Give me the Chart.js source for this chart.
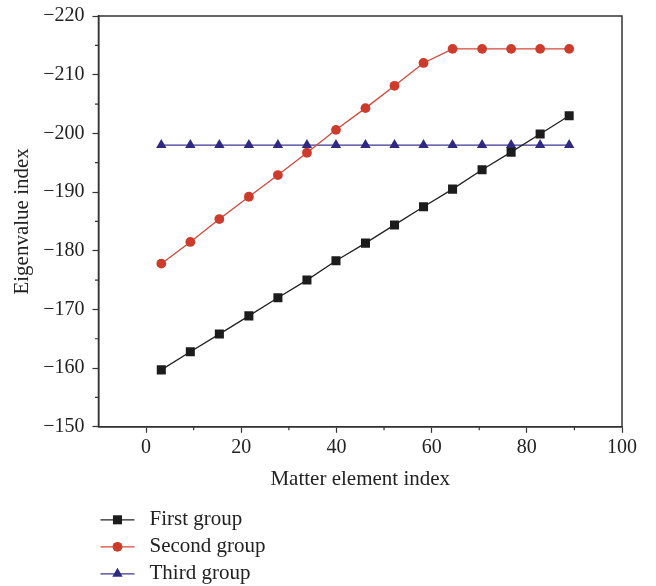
<!DOCTYPE html>
<html>
<head>
<meta charset="utf-8">
<script src="https://cdn.jsdelivr.net/npm/chart.js@4.4.0/dist/chart.umd.min.js"></script>
<style>
  html, body { margin: 0; padding: 0; background: #fff; }
  #wrap { width: 656px; height: 586px; position: relative; }
</style>
</head>
<body>
<div id="wrap"><canvas id="grafico"></canvas></div>
<script>
// Valores
const matterIndex = [3.2, 9.3, 15.4, 21.6, 27.7, 33.8, 39.9, 46.1, 52.2, 58.3, 64.4, 70.6, 76.7, 82.8, 88.9];
const firstGroup = [-159.7, -162.8, -165.8, -168.9, -172.0, -175.0, -178.3, -181.3, -184.4, -187.5, -190.5, -193.8, -196.8, -199.9, -203.0];
const secondGroup = [-177.8, -181.5, -185.4, -189.2, -192.9, -196.7, -200.6, -204.3, -208.1, -212.0, -214.4, -214.4, -214.4, -214.4, -214.4];
const thirdGroup = [-198.0, -198.0, -198.0, -198.0, -198.0, -198.0, -198.0, -198.0, -198.0, -198.0, -198.0, -198.0, -198.0, -198.0, -198.0];
const seriesNames = ['First group', 'Second group', 'Third group'];

const xTicks = [0, 20, 40, 60, 80, 100];
const xMinorTicks = [10, 30, 50, 70, 90];
const yTicks = [-220, -210, -200, -190, -180, -170, -160, -150];
const yMinorTicks = [-215, -205, -195, -185, -175, -165, -155];

const fonte = "'Liberation Serif', 'DejaVu Serif', serif";
const corEixo = '#333333';

function pontos(ys) {
    return matterIndex.map((x, i) => ({ x: x, y: ys[i] }));
}

// Moldura (topo e direita) e ticks menores
const molduraPlugin = {
    id: 'moldura',
    afterDraw(chart) {
        const { ctx, chartArea: a, scales } = chart;
        ctx.save();
        ctx.strokeStyle = corEixo;
        ctx.lineWidth = 1.5;
        ctx.strokeRect(a.left, a.top, a.right - a.left, a.bottom - a.top);
        ctx.lineWidth = 1.2;
        ctx.beginPath();
        xMinorTicks.forEach(v => {
            const px = scales.x.getPixelForValue(v);
            ctx.moveTo(px, a.bottom);
            ctx.lineTo(px, a.bottom + 3.5);
        });
        yMinorTicks.forEach(v => {
            const py = scales.y.getPixelForValue(v);
            ctx.moveTo(a.left, py);
            ctx.lineTo(a.left - 3.5, py);
        });
        ctx.stroke();
        ctx.restore();
    }
};

// Legenda vertical abaixo do gráfico
const legendaPlugin = {
    id: 'legendaVertical',
    afterDraw(chart) {
        const { ctx, chartArea: a } = chart;
        ctx.save();
        ctx.font = '21px ' + fonte;
        ctx.textBaseline = 'middle';
        chart.data.datasets.forEach((ds, i) => {
            const y = a.bottom + 93 + i * 27;
            const x0 = a.left + 2;
            ctx.strokeStyle = ds.borderColor;
            ctx.lineWidth = 1.3;
            ctx.beginPath();
            ctx.moveTo(x0, y);
            ctx.lineTo(x0 + 34, y);
            ctx.stroke();
            ctx.fillStyle = ds.pointBackgroundColor;
            ctx.strokeStyle = ds.pointBackgroundColor;
            Chart.helpers.drawPoint(ctx, {
                pointStyle: ds.pointStyle,
                radius: ds.pointRadius,
                rotation: 0,
                borderWidth: 0
            }, x0 + 17, y);
            ctx.fillStyle = '#222';
            ctx.fillText(ds.label, x0 + 49, y);
        });
        ctx.restore();
    }
};

const ctx = document.getElementById('grafico').getContext('2d');
new Chart(ctx, {
    type: 'line',
    data: {
        datasets: [
            {
                label: seriesNames[0],
                data: pontos(firstGroup),
                borderColor: '#222222',
                borderWidth: 1.3,
                pointStyle: 'rect',
                pointRadius: 6.4,
                pointBackgroundColor: '#1c1c1c',
                pointBorderWidth: 0
            },
            {
                label: seriesNames[1],
                data: pontos(secondGroup),
                borderColor: '#d4473a',
                borderWidth: 1.3,
                pointStyle: 'circle',
                pointRadius: 4.9,
                pointBackgroundColor: '#cc3b2b',
                pointBorderWidth: 0
            },
            {
                label: seriesNames[2],
                data: pontos(thirdGroup),
                borderColor: '#3a3790',
                borderWidth: 1.3,
                pointStyle: 'triangle',
                pointRadius: 6,
                pointBackgroundColor: '#2f2a80',
                pointBorderWidth: 0
            }
        ]
    },
    options: {
        responsive: true,
        maintainAspectRatio: false,
        animation: false,
        layout: { padding: { left: 7, right: 34, top: 16, bottom: 90 } },
        plugins: {
            legend: { display: false },
            tooltip: { enabled: false }
        },
        scales: {
            x: {
                type: 'linear',
                min: -10,
                max: 100,
                afterBuildTicks: axis => { axis.ticks = xTicks.map(v => ({ value: v })); },
                ticks: {
                    color: '#222',
                    font: { family: fonte, size: 20 },
                    padding: 3,
                    maxRotation: 0
                },
                grid: { drawOnChartArea: false, tickLength: 6, tickColor: corEixo, tickWidth: 1.2 },
                border: { color: corEixo, width: 1.5 },
                title: {
                    display: true,
                    text: 'Matter element index',
                    color: '#222',
                    font: { family: fonte, size: 21 },
                    padding: { top: 4, bottom: 4 }
                }
            },
            y: {
                type: 'linear',
                min: -220,
                max: -150,
                reverse: true,
                afterBuildTicks: axis => { axis.ticks = yTicks.map(v => ({ value: v })); },
                // rótulos podem ultrapassar a área, como no original
                afterFit: axis => { axis.paddingTop = 0; axis.paddingBottom = 0; },
                ticks: {
                    color: '#222',
                    font: { family: fonte, size: 20 },
                    padding: 8,
                    callback: v => String(v).replace('-', '\u2212')
                },
                grid: { drawOnChartArea: false, tickLength: 6, tickColor: corEixo, tickWidth: 1.2 },
                border: { color: corEixo, width: 1.5 },
                title: {
                    display: true,
                    text: 'Eigenvalue index',
                    color: '#222',
                    font: { family: fonte, size: 21 },
                    padding: { top: 3, bottom: 0 }
                }
            }
        }
    },
    plugins: [molduraPlugin, legendaPlugin]
});
</script>
</body>
</html>
